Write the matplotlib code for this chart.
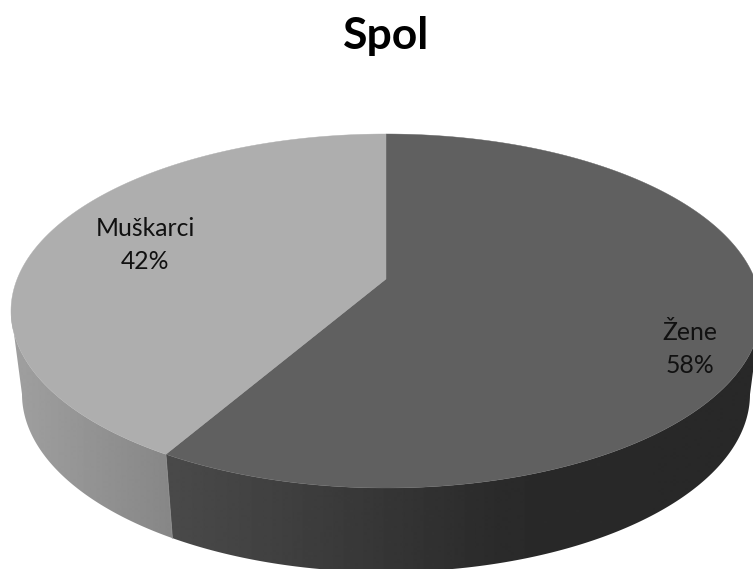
import numpy as np
import matplotlib
matplotlib.use("Agg")
import matplotlib.pyplot as plt
from matplotlib.patches import Polygon

title = "Spol"
categories = ["Žene", "Muškarci"]
values = [58.4, 41.6]

plt.rcParams['font.family'] = ['Lato', 'DejaVu Sans']
W, H = 753, 569
fig = plt.figure(figsize=(W / 100, H / 100), dpi=100)
ax = fig.add_axes([0, 0, 1, 1])
ax.set_xlim(0, W)
ax.set_ylim(H, 0)
ax.axis('off')

CX, TOP, BOT, APEX, RX = 386.0, 134.0, 488.0, 279.0, 375.0
up, down = APEX - TOP, BOT - APEX
k = (down - up) / (down + up)
a = up * (1 + k)
c = RX * np.sqrt(1 - k * k)
CY, RY = (TOP + BOT) / 2, (BOT - TOP) / 2
BCY, BRY, BRX = 394.0, 178.0, 364.0


def top_pt(t):
    u, v = np.cos(t), np.sin(t)
    w = 1 + k * v
    return CX + c * u / w, APEX - a * v / w


def bot_pt(t):
    x, y = top_pt(t)
    return CX + (x - CX) * BRX / RX, BCY + (y - CY) * BRY / RY


fr = np.cumsum([0] + values) / sum(values)
ang = np.pi / 2 - 2 * np.pi * fr
top_cols = ['#606060', '#aeaeae']
side_x = [[165, 260, 503, 760], [10, 175]]
side_c = [[74, 66, 42, 40], [160, 134]]

# side walls: a horizontal grey gradient clipped to each wall outline
xs = np.arange(0, W + 1)
for i in range(len(values)):
    t = np.linspace(ang[i], ang[i + 1], 800)
    t = t[top_pt(t)[1] >= CY]
    xt, yt = top_pt(t)
    xb, yb = bot_pt(t)
    verts = np.c_[np.r_[xt, xb[::-1]], np.r_[yt, yb[::-1]]]
    patch = Polygon(verts, closed=True, transform=ax.transData, facecolor='none', edgecolor='none')
    ax.add_patch(patch)
    grad = np.interp(xs, side_x[i], side_c[i])[None, :]
    im = ax.imshow(grad, extent=[0, W, H, 0], cmap='gray', vmin=0, vmax=255,
                   aspect='auto', interpolation='bilinear', zorder=2)
    im.set_clip_path(patch)

# seam between the two side walls
xa, ya = top_pt(ang[1])
xd, yd = bot_pt(ang[1])
ax.plot([xa, xd], [ya, yd], color='#8c8c8c', lw=0.7, zorder=3)

# top face
for i in range(len(values)):
    t = np.linspace(ang[i], ang[i + 1], 400)
    x, y = top_pt(t)
    ax.fill(np.r_[CX, x], np.r_[APEX, y], color=top_cols[i], lw=0.3, zorder=4)

ax.text(386, 36, title, ha='center', va='center', fontsize=32, fontweight='bold', color='black', zorder=5)
label_pos = [(690, 349), (145, 245)]
for name, val, (lx, ly) in zip(categories, values, label_pos):
    ax.text(lx, ly, f"{name}\n{val:.0f}%", ha='center', va='center', fontsize=17.8,
            linespacing=1.5, color='#111111', zorder=5)

ax.set_xlim(0, W)
ax.set_ylim(H, 0)
fig.savefig('out.png', dpi=100, facecolor='white')
